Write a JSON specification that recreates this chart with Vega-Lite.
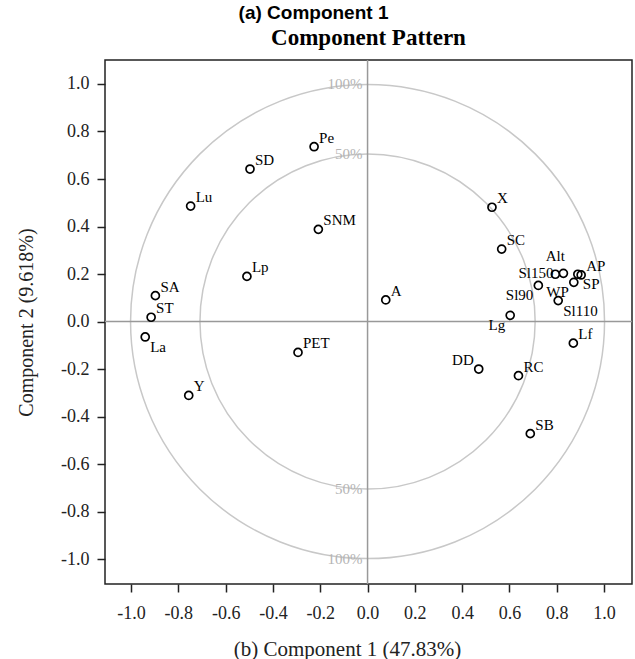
{
  "$schema": "https://vega.github.io/schema/vega-lite/v6.json",
  "autosize": {"type": "pad"},
  "padding": {"left": 15, "top": 3, "right": 3, "bottom": 0},
  "background": "white",
  "title": {
    "text": "(a) Component 1",
    "anchor": "middle",
    "frame": "group",
    "dx": -55,
    "font": "Liberation Sans",
    "fontSize": 19,
    "fontWeight": "bold",
    "color": "black",
    "offset": 4
  },
  "config": {
    "view": {"stroke": "#222", "strokeWidth": 1.5},
    "axis": {
      "grid": false,
      "domain": false,
      "tickSize": 8,
      "tickColor": "#222",
      "tickWidth": 1.5,
      "labelFont": "Liberation Serif",
      "labelFontSize": 18,
      "labelColor": "#222",
      "titleFont": "Liberation Serif",
      "titleFontSize": 20,
      "titleFontWeight": "normal",
      "titleColor": "#222"
    }
  },
  "datasets": {
    "vars": [
      {"name": "Pe", "x": -0.226, "y": 0.736},
      {"name": "SD", "x": -0.497, "y": 0.642},
      {"name": "Lu", "x": -0.748, "y": 0.486},
      {"name": "SNM", "x": -0.208, "y": 0.388},
      {"name": "Lp", "x": -0.51, "y": 0.19},
      {"name": "SA", "x": -0.897, "y": 0.109},
      {"name": "ST", "x": -0.915, "y": 0.018},
      {"name": "La", "x": -0.94, "y": -0.065},
      {"name": "PET", "x": -0.294, "y": -0.13},
      {"name": "Y", "x": -0.756, "y": -0.311},
      {"name": "A", "x": 0.077, "y": 0.091},
      {"name": "X", "x": 0.526, "y": 0.481},
      {"name": "SC", "x": 0.567, "y": 0.305},
      {"name": "Alt", "x": 0.794, "y": 0.199},
      {"name": "Sl150", "x": 0.828, "y": 0.203},
      {"name": "SP", "x": 0.889, "y": 0.199},
      {"name": "AP", "x": 0.903, "y": 0.196},
      {"name": "WP", "x": 0.872, "y": 0.165},
      {"name": "Sl90", "x": 0.722, "y": 0.152},
      {"name": "Sl110", "x": 0.806, "y": 0.088},
      {"name": "Lg", "x": 0.603, "y": 0.026},
      {"name": "Lf", "x": 0.87, "y": -0.091},
      {"name": "DD", "x": 0.47, "y": -0.2},
      {"name": "RC", "x": 0.638, "y": -0.228},
      {"name": "SB", "x": 0.688, "y": -0.472}
    ],
    "rings": [
      {"y": 1, "label": "100%"},
      {"y": 0.7071, "label": "50%"},
      {"y": -0.7071, "label": "50%"},
      {"y": -1, "label": "100%"}
    ],
    "one": [{}]
  },
  "vconcat": [
    {
      "width": 527,
      "height": 524,
      "title": {
        "text": "Component Pattern",
        "anchor": "middle",
        "font": "Liberation Serif",
        "fontSize": 23,
        "fontWeight": "bold",
        "color": "black",
        "offset": 9
      },
      "data": {"name": "vars"},
      "layer": [
        {
          "data": {"name": "one"},
          "mark": {"type": "point", "shape": "circle", "filled": false, "size": 224676, "stroke": "#c8c8c8", "strokeWidth": 1.5, "opacity": 1},
          "encoding": {
            "x": {"datum": 0, "type": "quantitative", "scale": {"domain": [-1.11, 1.118], "nice": false, "zero": false},
              "axis": {"values": [-1, -0.8, -0.6, -0.4, -0.2, 0, 0.2, 0.4, 0.6, 0.8, 1], "labelExpr": "replace(format(datum.value,'.1f'),'\u2212','-')", "title": "(b)  Component 1 (47.83%)", "labelFont": "Liberation Serif", "labelPadding": 12, "titlePadding": 16, "titleFontSize": 21, "titleX": 242}},
            "y": {"datum": 0, "type": "quantitative", "scale": {"domain": [-1.105, 1.101], "nice": false, "zero": false},
              "axis": {"values": [-1, -0.8, -0.6, -0.4, -0.2, 0, 0.2, 0.4, 0.6, 0.8, 1], "labelExpr": "replace(format(datum.value,'.1f'),'\u2212','-')", "title": "Component 2 (9.618%)", "labelFont": "Liberation Serif", "labelPadding": 8, "titlePadding": 24}}
          }
        },
        {
          "data": {"name": "one"},
          "mark": {"type": "point", "shape": "circle", "filled": false, "size": 112359, "stroke": "#c8c8c8", "strokeWidth": 1.5, "opacity": 1},
          "encoding": {
            "x": {"datum": 0, "type": "quantitative"},
            "y": {"datum": 0, "type": "quantitative"}
          }
        },
        {
          "data": {"name": "one"},
          "mark": {"type": "rule", "color": "#999", "strokeWidth": 1.5},
          "encoding": {"x": {"datum": 0, "type": "quantitative"}}
        },
        {
          "data": {"name": "one"},
          "mark": {"type": "rule", "color": "#999", "strokeWidth": 1.5},
          "encoding": {"y": {"datum": 0, "type": "quantitative"}}
        },
        {
          "data": {"name": "rings"},
          "mark": {"type": "text", "align": "right", "baseline": "middle", "dx": -5, "font": "Liberation Serif", "fontSize": 15, "color": "#b4b4b4"},
          "encoding": {
            "x": {"datum": 0, "type": "quantitative"},
            "y": {"field": "y", "type": "quantitative"},
            "text": {"field": "label"}
          }
        },
        {
          "mark": {"type": "point", "shape": "circle", "filled": false, "size": 64, "stroke": "black", "strokeWidth": 1.7, "opacity": 1},
          "encoding": {
            "x": {"field": "x", "type": "quantitative"},
            "y": {"field": "y", "type": "quantitative"}
          }
        },
        {
          "transform": [{"filter": {"field": "name", "oneOf": ["Pe", "SD", "Lu", "SNM", "Lp", "SA", "ST", "PET", "Y", "A", "X", "SC", "AP", "Lf", "RC", "SB"]}}],
          "mark": {"type": "text", "align": "left", "baseline": "middle", "dx": 5, "dy": -9, "font": "Liberation Serif", "fontSize": 15, "color": "black"},
          "encoding": {"x": {"field": "x", "type": "quantitative"}, "y": {"field": "y", "type": "quantitative"}, "text": {"field": "name"}}
        },
        {
          "transform": [{"filter": {"field": "name", "oneOf": ["La", "SP", "Sl110"]}}],
          "mark": {"type": "text", "align": "left", "baseline": "middle", "dx": 5, "dy": 10, "font": "Liberation Serif", "fontSize": 15, "color": "black"},
          "encoding": {"x": {"field": "x", "type": "quantitative"}, "y": {"field": "y", "type": "quantitative"}, "text": {"field": "name"}}
        },
        {
          "transform": [{"filter": {"field": "name", "oneOf": ["Lg", "WP", "Sl90"]}}],
          "mark": {"type": "text", "align": "right", "baseline": "middle", "dx": -5, "dy": 10, "font": "Liberation Serif", "fontSize": 15, "color": "black"},
          "encoding": {"x": {"field": "x", "type": "quantitative"}, "y": {"field": "y", "type": "quantitative"}, "text": {"field": "name"}}
        },
        {
          "transform": [{"filter": {"field": "name", "oneOf": ["DD"]}}],
          "mark": {"type": "text", "align": "right", "baseline": "middle", "dx": -5, "dy": -9, "font": "Liberation Serif", "fontSize": 15, "color": "black"},
          "encoding": {"x": {"field": "x", "type": "quantitative"}, "y": {"field": "y", "type": "quantitative"}, "text": {"field": "name"}}
        },
        {
          "transform": [{"filter": {"field": "name", "oneOf": ["Sl150"]}}],
          "mark": {"type": "text", "align": "right", "baseline": "middle", "dx": -10, "dy": 0, "font": "Liberation Serif", "fontSize": 15, "color": "black"},
          "encoding": {"x": {"field": "x", "type": "quantitative"}, "y": {"field": "y", "type": "quantitative"}, "text": {"field": "name"}}
        },
        {
          "transform": [{"filter": {"field": "name", "oneOf": ["Alt"]}}],
          "mark": {"type": "text", "align": "center", "baseline": "middle", "dx": 0, "dy": -18, "font": "Liberation Serif", "fontSize": 15, "color": "black"},
          "encoding": {"x": {"field": "x", "type": "quantitative"}, "y": {"field": "y", "type": "quantitative"}, "text": {"field": "name"}}
        }
      ]
    }
  ]
}
